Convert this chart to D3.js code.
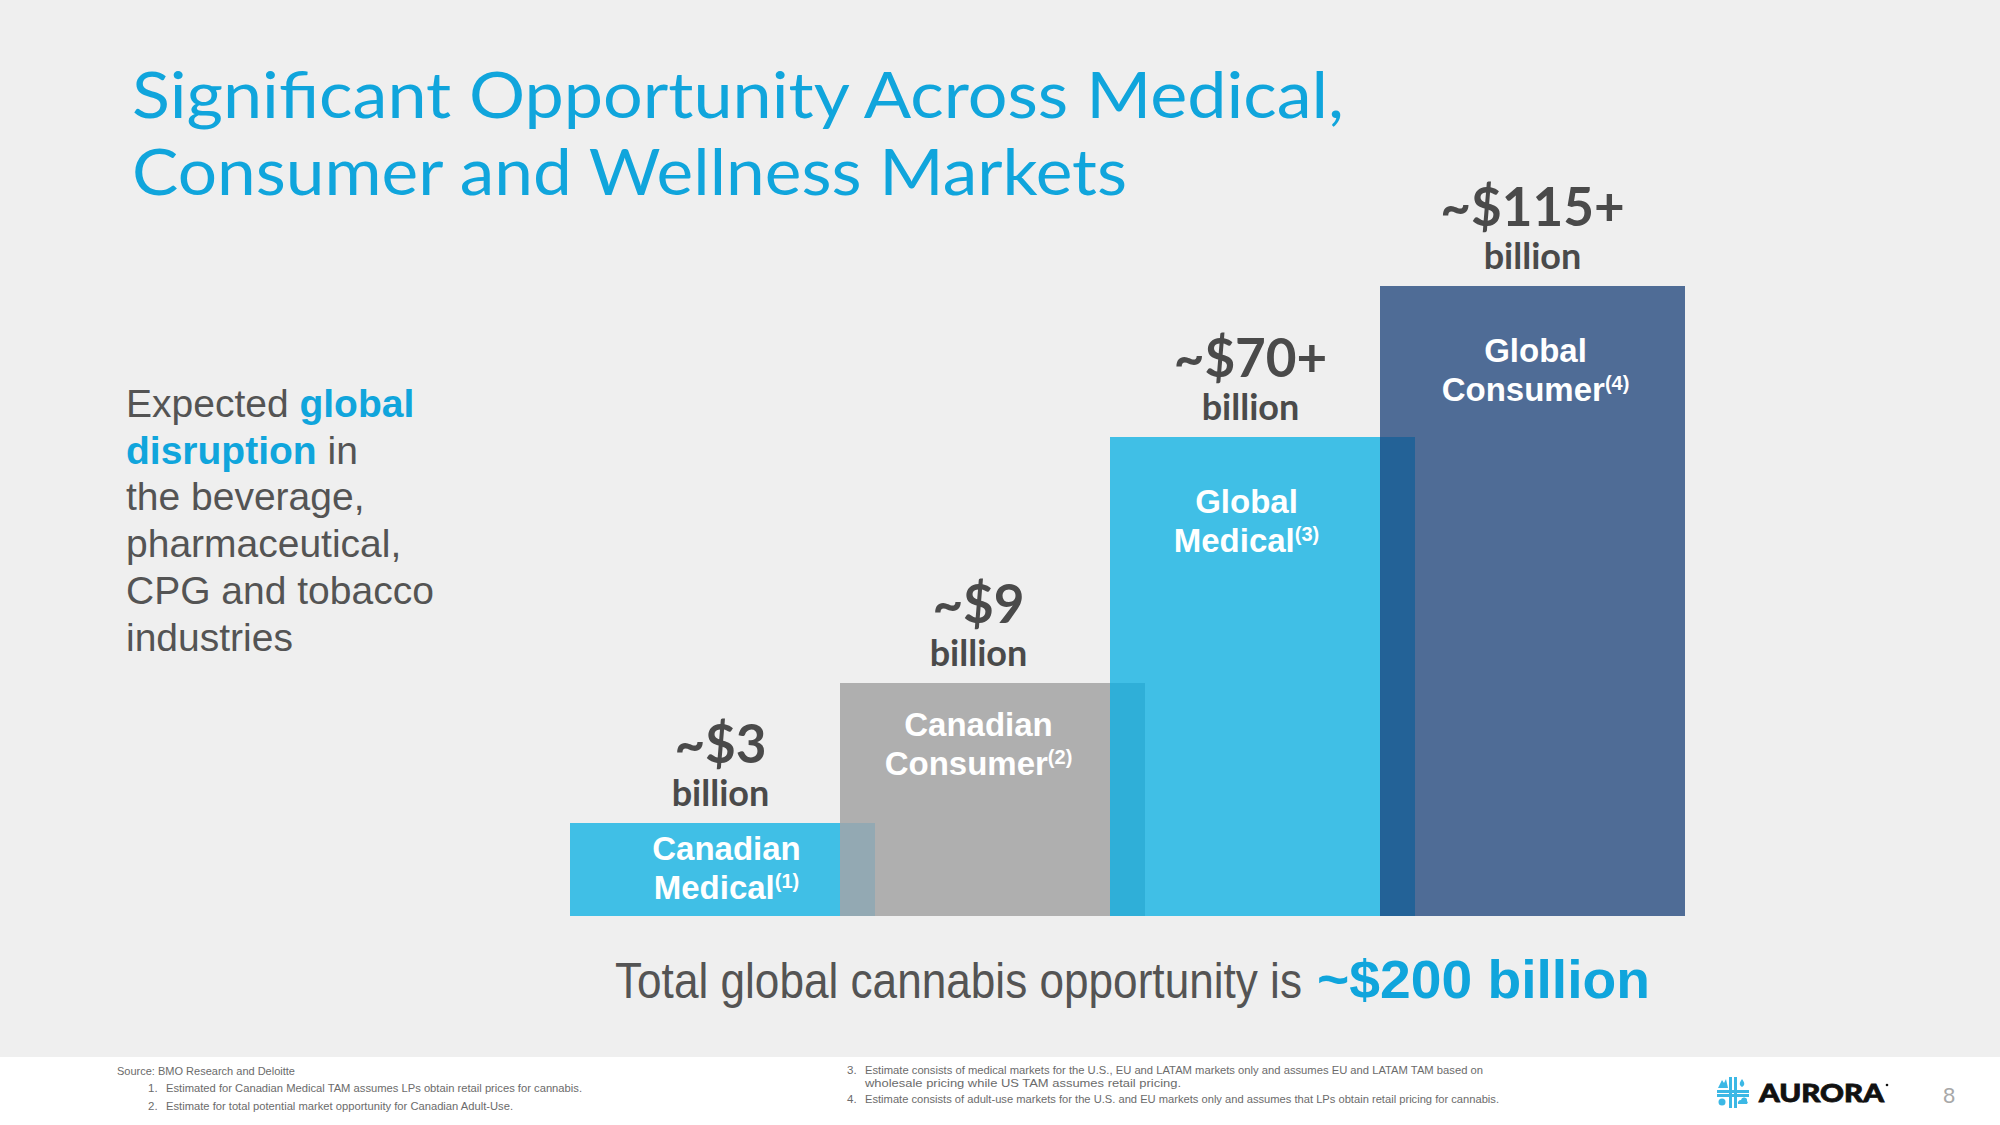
<!DOCTYPE html>
<html>
<head>
<meta charset="utf-8">
<script src="https://cdn.jsdelivr.net/npm/d3@7"></script>
<style>
  html, body { margin: 0; padding: 0; background: #efefef; }
  svg { display: block; }
</style>
</head>
<body>
<script>
// ---------- DATA ----------
const categories = ["Canadian Medical", "Canadian Consumer", "Global Medical", "Global Consumer"];
const nameLine1 = ["Canadian", "Canadian", "Global", "Global"];
const nameLine2 = ["Medical", "Consumer", "Medical", "Consumer"];
const footnoteRefs = ["(1)", "(2)", "(3)", "(4)"];
const values = [3, 9, 70, 115];               // US$ billion
const valueLabels = ["~$3", "~$9", "~$70+", "~$115+"];
const unitLabel = "billion";
const titleLines = ["Significant Opportunity Across Medical,", "Consumer and Wellness Markets"];
const totalText = "Total global cannabis opportunity is";
const totalValue = "~$200 billion";
const sourceText = "Source: BMO Research and Deloitte";
const footnotes = [
  ["1.", "Estimated for Canadian Medical TAM assumes LPs obtain retail prices for cannabis."],
  ["2.", "Estimate for total potential market opportunity for Canadian Adult-Use."],
  ["3.", "Estimate consists of medical markets for the U.S., EU and LATAM markets only and assumes EU and LATAM TAM based on", "wholesale pricing while US TAM assumes retail pricing."],
  ["4.", "Estimate consists of adult-use markets for the U.S. and EU markets only and assumes that LPs obtain retail pricing for cannabis."]
];

// ---------- STYLE / LAYOUT ----------
const W = 2000, H = 1125;
const barColors = ["#40bfe6", "#afafaf", "#40bfe6", "#4f6c96"];
const overlapColors = ["#93a9b3", "#2fafd8", "#236297"];
const valueShift = [-2, -14, -12, 0];
const nameShift = [4, -14, -16, 3];
const nameOffset = [37, 53, 76, 76];
const blue = "#10a5dc";
const textGray = "#545454";
const valGray = "#4a4a4a";

const svg = d3.select("body").append("svg").attr("width", W).attr("height", H);
svg.append("rect").attr("width", W).attr("height", H).attr("fill", "#efefef");

// scales
const x = d3.scaleBand().domain(categories).range([570, 1685]).paddingInner(-0.1296).paddingOuter(0);
const y = d3.scaleLinear().domain([0, 3, 9, 70, 115]).range([916, 823, 683, 437, 286]);

const data = categories.map((c, i) => ({c, i, v: values[i]}));

// bars
svg.append("g").selectAll("rect").data(data).join("rect")
  .attr("x", d => x(d.c)).attr("y", d => y(d.v))
  .attr("width", x.bandwidth()).attr("height", d => y(0) - y(d.v))
  .attr("fill", d => barColors[d.i]);

// overlaps between consecutive bars
const pairs = d3.pairs(data);
svg.append("g").selectAll("rect").data(pairs).join("rect")
  .attr("x", p => x(p[1].c))
  .attr("y", p => y(p[0].v))
  .attr("width", p => x(p[0].c) + x.bandwidth() - x(p[1].c))
  .attr("height", p => y(0) - y(p[0].v))
  .attr("fill", (p, i) => overlapColors[i]);

// value labels
const vl = svg.append("g").attr("text-anchor", "middle").attr("fill", valGray)
  .attr("font-family", "Lato, sans-serif").attr("font-weight", 700);
vl.selectAll("text.v").data(data).join("text").attr("class", "v")
  .attr("x", d => x(d.c) + x.bandwidth() / 2 + valueShift[d.i])
  .attr("y", d => y(d.v) - 60)
  .attr("font-size", 53)
  .text(d => valueLabels[d.i]);
vl.selectAll("text.u").data(data).join("text").attr("class", "u")
  .attr("x", d => x(d.c) + x.bandwidth() / 2 + valueShift[d.i])
  .attr("y", d => y(d.v) - 17)
  .attr("font-size", 36)
  .text(unitLabel);

// in-bar names
const nl = svg.append("g").attr("text-anchor", "middle").attr("fill", "#ffffff")
  .attr("font-family", "'Liberation Sans', Arial, sans-serif").attr("font-weight", 700);
nl.selectAll("text.n1").data(data).join("text").attr("class", "n1")
  .attr("x", d => x(d.c) + x.bandwidth() / 2 + nameShift[d.i])
  .attr("y", d => y(d.v) + nameOffset[d.i])
  .attr("font-size", 33)
  .text(d => nameLine1[d.i]);
const n2 = nl.selectAll("text.n2").data(data).join("text").attr("class", "n2")
  .attr("x", d => x(d.c) + x.bandwidth() / 2 + nameShift[d.i])
  .attr("y", d => y(d.v) + nameOffset[d.i] + 39)
  .attr("font-size", 33);
n2.append("tspan").text(d => nameLine2[d.i]);
n2.append("tspan").attr("font-size", 20).attr("dy", -11).text(d => footnoteRefs[d.i]);

// title
const title = svg.append("g").attr("fill", blue).attr("font-family", "Lato, sans-serif").attr("font-weight", 400);
title.selectAll("text").data(titleLines).join("text")
  .attr("x", 132).attr("y", (d, i) => 118 + i * 77)
  .attr("font-size", 64)
  .attr("textLength", (d, i) => [1212, 995][i]).attr("lengthAdjust", "spacingAndGlyphs")
  .text(d => d);

// left paragraph
const para = [
  [["Expected ", false], ["global", true]],
  [["disruption", true], [" in", false]],
  [["the beverage,", false]],
  [["pharmaceutical,", false]],
  [["CPG and tobacco", false]],
  [["industries", false]]
];
const pg = svg.append("g").attr("font-family", "'Liberation Sans', Arial, sans-serif").attr("font-size", 39);
para.forEach((line, i) => {
  const t = pg.append("text").attr("x", 126).attr("y", 417 + i * 46.7);
  line.forEach(([s, b]) => {
    t.append("tspan").text(s)
      .attr("fill", b ? blue : textGray)
      .attr("font-weight", b ? 700 : 400);
  });
});

// total line
svg.append("text").attr("x", 615).attr("y", 998)
  .attr("font-family", "'Liberation Sans Narrow', 'Liberation Sans', Arial, sans-serif")
  .attr("font-size", 50).attr("fill", textGray)
  .attr("textLength", 687).attr("lengthAdjust", "spacingAndGlyphs")
  .text(totalText);
svg.append("text").attr("x", 1317).attr("y", 998)
  .attr("font-family", "'Liberation Sans Narrow', 'Liberation Sans', Arial, sans-serif")
  .attr("font-size", 54).attr("font-weight", 700).attr("fill", blue)
  .attr("textLength", 333).attr("lengthAdjust", "spacingAndGlyphs")
  .text(totalValue);

// footer
svg.append("rect").attr("x", 0).attr("y", 1057).attr("width", W).attr("height", H - 1057).attr("fill", "#ffffff");
const ff = svg.append("g").attr("font-family", "'Liberation Sans Narrow', 'Liberation Sans', Arial, sans-serif")
  .attr("font-size", 11.5).attr("fill", "#6b6b6b");
ff.append("text").attr("x", 117).attr("y", 1075).attr("textLength", 178).attr("lengthAdjust", "spacingAndGlyphs").text(sourceText);
const fnPos = [
  {nx: 148, tx: 166, ys: [1092], ws: [416]},
  {nx: 148, tx: 166, ys: [1110], ws: [347]},
  {nx: 847, tx: 865, ys: [1074, 1087], ws: [618, 316]},
  {nx: 847, tx: 865, ys: [1103], ws: [634]}
];
footnotes.forEach((f, i) => {
  const p = fnPos[i];
  ff.append("text").attr("x", p.nx).attr("y", p.ys[0]).text(f[0]);
  f.slice(1).forEach((s, j) => {
    ff.append("text").attr("x", p.tx).attr("y", p.ys[j])
      .attr("textLength", p.ws[j]).attr("lengthAdjust", "spacingAndGlyphs").text(s);
  });
});

// logo
const lg = svg.append("g");
const lb = "#3cb8e5";
lg.append("rect").attr("x", 1729).attr("y", 1077).attr("width", 3).attr("height", 31).attr("fill", lb);
lg.append("rect").attr("x", 1734).attr("y", 1077).attr("width", 3).attr("height", 31).attr("fill", lb);
lg.append("rect").attr("x", 1717).attr("y", 1090).attr("width", 32).attr("height", 3).attr("fill", lb);
lg.append("rect").attr("x", 1717).attr("y", 1094).attr("width", 32).attr("height", 3).attr("fill", lb);
lg.append("path").attr("d", "M1718,1088 L1722,1080 L1724,1083 L1726,1079 L1728,1088 Z").attr("fill", lb);
lg.append("path").attr("d", "M1742,1079 C1739,1083 1739,1085 1742,1087 C1745,1085 1745,1083 1742,1079 Z").attr("fill", lb);
lg.append("circle").attr("cx", 1722).attr("cy", 1102).attr("r", 3.5).attr("fill", lb);
lg.append("path").attr("d", "M1738,1104 a3,3 0 0 1 3,-4 a3,3 0 0 1 6,1 a2,2 0 0 1 0,3 Z").attr("fill", lb);
lg.append("text").attr("x", 1759).attr("y", 1102).attr("font-family", "Lato, 'Liberation Sans', sans-serif")
  .attr("font-weight", 900).attr("font-size", 25).attr("fill", "#111111")
  .attr("stroke", "#111111").attr("stroke-width", 0.8)
  .attr("textLength", 125).attr("lengthAdjust", "spacingAndGlyphs").text("AURORA");
lg.append("circle").attr("cx", 1887).attr("cy", 1085).attr("r", 1.3).attr("fill", "#111111");
svg.append("text").attr("x", 1949).attr("y", 1103).attr("text-anchor", "middle")
  .attr("font-family", "'Liberation Sans Narrow', 'Liberation Sans', sans-serif")
  .attr("font-size", 22).attr("fill", "#a8a8a8").text("8");
</script>
</body>
</html>
